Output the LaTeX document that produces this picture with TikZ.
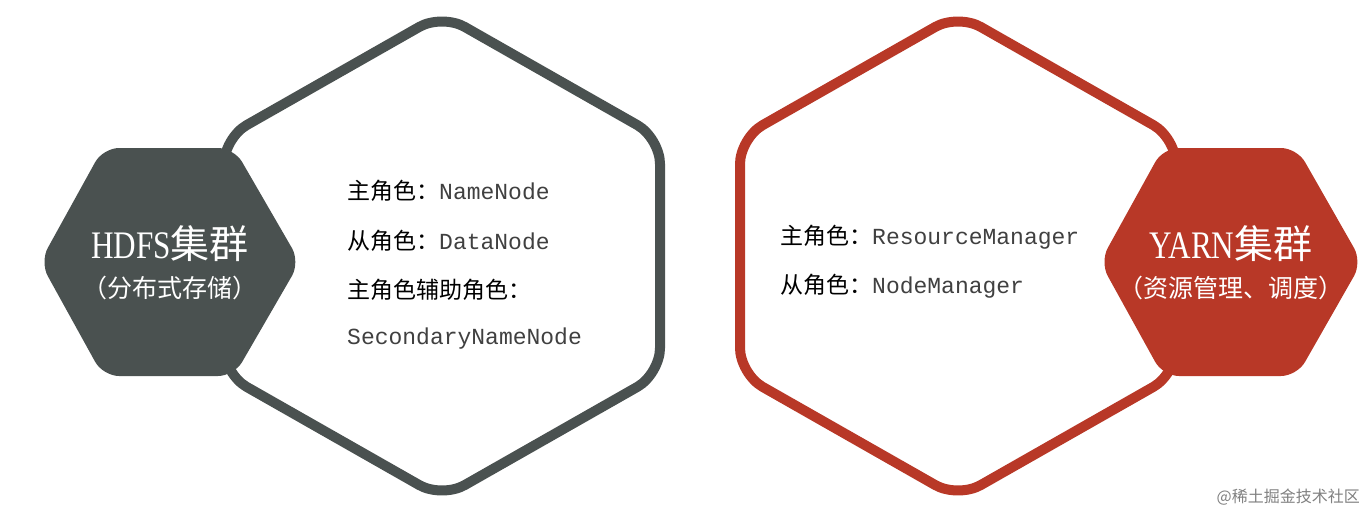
\documentclass[tikz,border=0pt]{standalone}
\usepackage{fontspec}
\setmainfont{Liberation Serif}
\setmonofont{Liberation Mono}
\newfontfamily\cjk{Noto Sans CJK SC}
\definecolor{hgray}{HTML}{4A5150}
\definecolor{hred}{HTML}{B83827}
\begin{document}
\begin{tikzpicture}[x=1pt,y=-1pt,
  bigout/.style={line width=10pt,rounded corners=26pt},
  smallfill/.style={rounded corners=16pt},
  role/.style={anchor=west,font=\cjk\fontsize{23}{24}\selectfont,text=black,inner sep=0},
  tl/.style={text=white,inner sep=0,font=\fontsize{39}{42}\selectfont},
  sl/.style={text=white,inner sep=0,font=\cjk\fontsize{25}{26}\selectfont}]
\useasboundingbox (0,0) rectangle (1365,514);
% left
\draw[bigout,draw=hgray,fill=white] (442,14) -- (660,138) -- (660,374) -- (442,498) -- (224,374) -- (224,138) -- cycle;
\fill[smallfill,hgray] (40,262) -- (103,148) -- (234,148) -- (300,262) -- (234,376) -- (103,376) -- cycle;
\node[tl] (hdfs) at (170,244) {{\addfontfeature{FakeStretch=0.8}HDFS}{\cjk 集群}};
\node[sl] (hdfs2) at (170,288) {（分布式存储）};
\node[role] (l1) at (347,191) {主角色：{\ttfamily\color{darkgray}NameNode}};
\node[role] (l2) at (347,241) {从角色：{\ttfamily\color{darkgray}DataNode}};
\node[role] (l3) at (347,290) {主角色辅助角色：};
\node[role] (l4) at (347,339) {\ttfamily\color{darkgray}SecondaryNameNode};
% right
\draw[bigout,draw=hred,fill=white] (958,14) -- (1176,138) -- (1176,374) -- (958,498) -- (740,374) -- (740,138) -- cycle;
\fill[smallfill,hred] (1100,262) -- (1163,148) -- (1297,148) -- (1362,262) -- (1297,376) -- (1163,376) -- cycle;
\node[tl] (yarn) at (1231,244) {{\addfontfeature{FakeStretch=0.8}YARN}{\cjk 集群}};
\node[sl] (yarn2) at (1231,288) {（资源管理、调度）};
\node[role] (r1) at (780,237) {主角色：{\ttfamily\color{darkgray}ResourceManager}};
\node[role] (r2) at (780,286) {从角色：{\ttfamily\color{darkgray}NodeManager}};
\node[anchor=east,text=gray,font=\cjk\fontsize{16}{16}\selectfont,inner sep=0] (wm) at (1360,497) {@稀土掘金技术社区};
\end{tikzpicture}
\end{document}
